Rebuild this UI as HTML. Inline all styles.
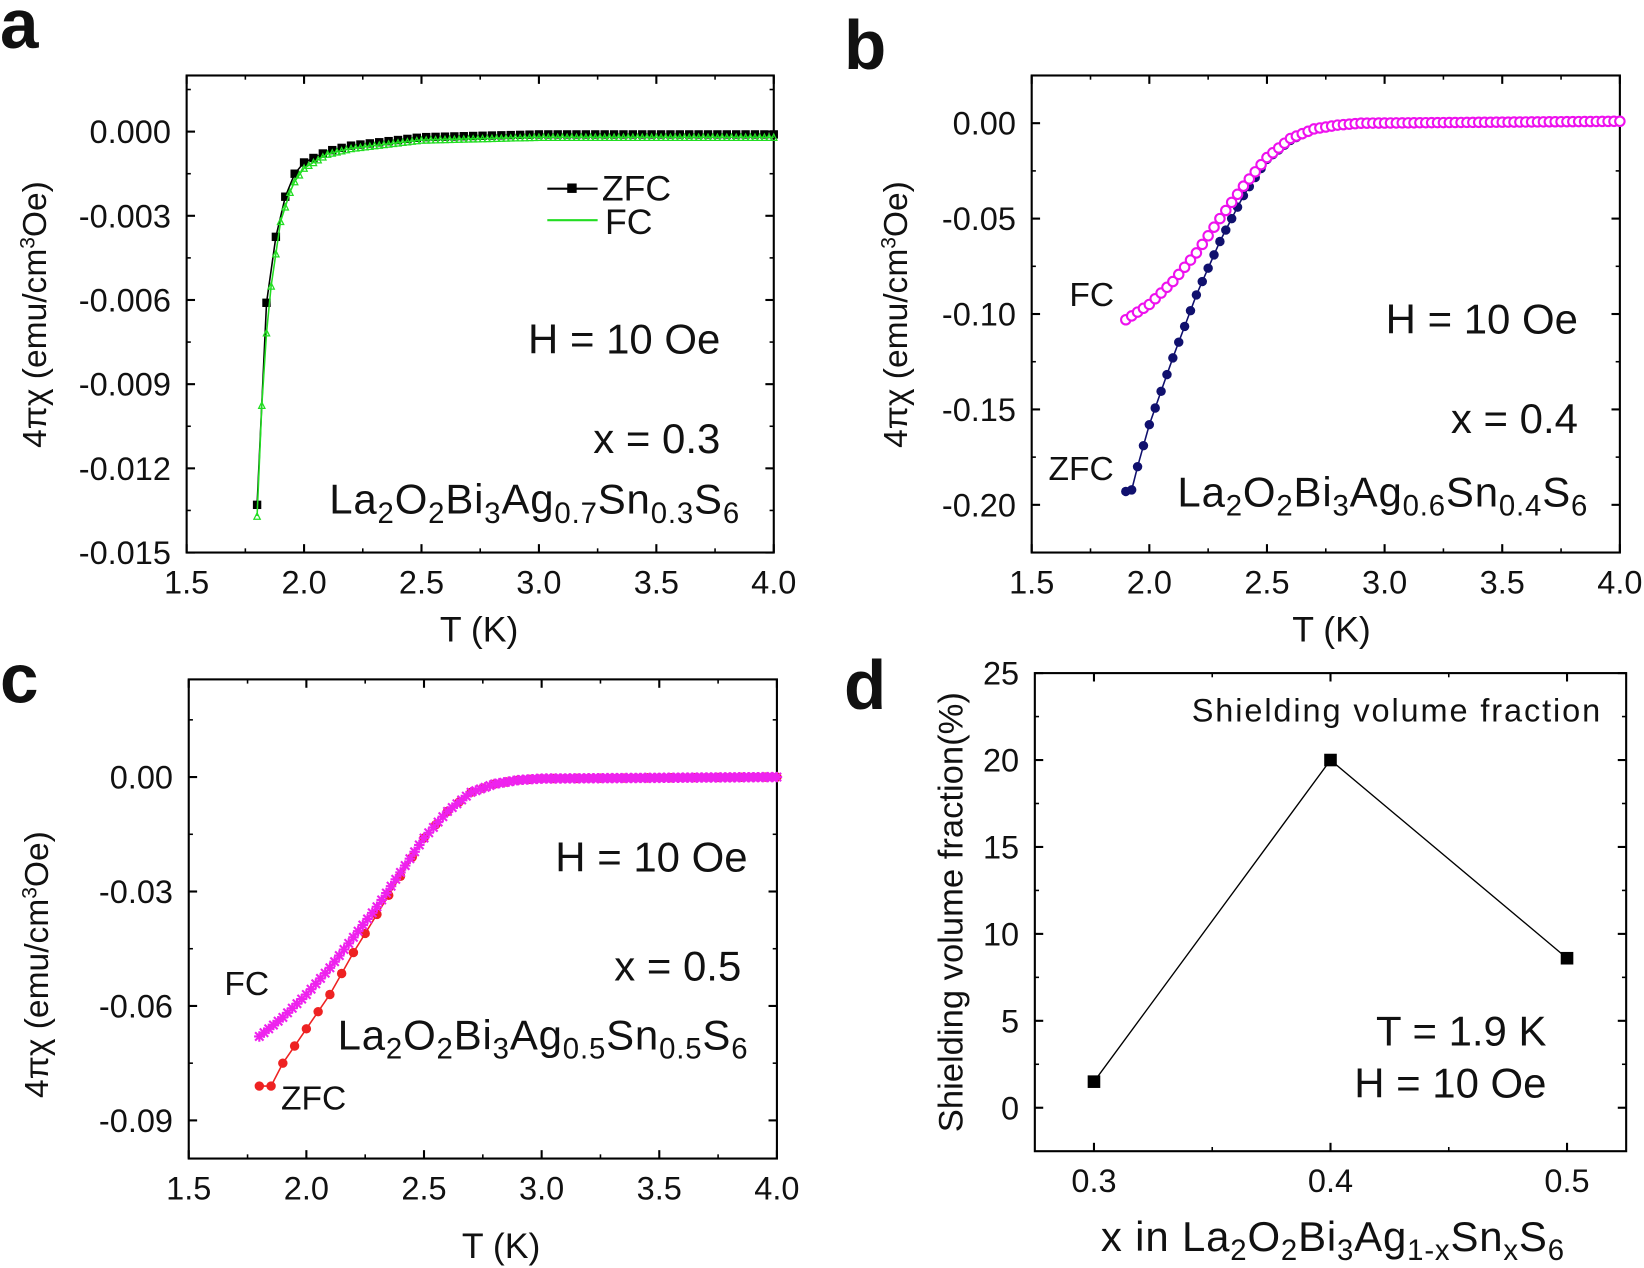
<!DOCTYPE html>
<html><head><meta charset="utf-8"><style>html,body{margin:0;padding:0;background:#fff}svg{display:block}text{font-family:"Liberation Sans",Arial,sans-serif}</style></head>
<body>
<svg id="s" width="1644" height="1268" viewBox="0 0 1568 1209.4" xmlns="http://www.w3.org/2000/svg"></svg>
<script>
const S=document.getElementById('s');let h='';
function interp(pts,t){for(let i=0;i<pts.length-1;i++){if(t<=pts[i+1][0]){const a=pts[i],b=pts[i+1];return a[1]+(b[1]-a[1])*(t-a[0])/(b[0]-a[0]);}}return pts[pts.length-1][1];}
function axes(o){
 const {x0,x1,y0,y1,xa,xb,ya,yb}=o;
 const X=v=>x0+(v-xa)/(xb-xa)*(x1-x0), Y=v=>y1-(v-ya)/(yb-ya)*(y1-y0);
 h+=`<rect x="${x0}" y="${y0}" width="${x1-x0}" height="${y1-y0}" fill="none" stroke="#000" stroke-width="2"/>`;
 o.xt.forEach(([v,l],i)=>{const x=X(v);h+=`<line x1="${x}" y1="${y1}" x2="${x}" y2="${y1-8}" stroke="#000" stroke-width="2"/><line x1="${x}" y1="${y0}" x2="${x}" y2="${y0+8}" stroke="#000" stroke-width="2"/>`;
  h+=`<text x="${x}" y="${y1+39}" font-size="31" text-anchor="middle" fill="#111">${l}</text>`;});
 (o.xm||[]).forEach(v=>{const x=X(v);h+=`<line x1="${x}" y1="${y1}" x2="${x}" y2="${y1-4}" stroke="#000" stroke-width="1.5"/><line x1="${x}" y1="${y0}" x2="${x}" y2="${y0+4}" stroke="#000" stroke-width="1.5"/>`;});
 o.yt.forEach(([v,l])=>{const y=Y(v);h+=`<line x1="${x0}" y1="${y}" x2="${x0+8}" y2="${y}" stroke="#000" stroke-width="2"/><line x1="${x1}" y1="${y}" x2="${x1-8}" y2="${y}" stroke="#000" stroke-width="2"/>`;
  h+=`<text x="${x0-15}" y="${y+11}" font-size="31" text-anchor="end" fill="#111">${l}</text>`;});
 (o.ym||[]).forEach(v=>{const y=Y(v);h+=`<line x1="${x0}" y1="${y}" x2="${x0+4}" y2="${y}" stroke="#000" stroke-width="1.5"/><line x1="${x1}" y1="${y}" x2="${x1-4}" y2="${y}" stroke="#000" stroke-width="1.5"/>`;});
 return [X,Y];
}
function series(X,Y,pts,t0,t1,dt,col,mk,lw){
 let d='',m='';
 for(let t=t0;t<=t1+1e-9;t+=dt){const x=X(t),y=Y(interp(pts,t));d+=(d?'L':'M')+x.toFixed(1)+','+y.toFixed(1);
  if(mk==='sq')m+=`<rect x="${x-4}" y="${y-4}" width="8" height="8" fill="${col}"/>`;
  else if(mk==='oc')m+=`<circle cx="${x}" cy="${y}" r="4.5" fill="#fff" stroke="${col}" stroke-width="2"/>`;
  else if(mk==='fc')m+=`<circle cx="${x}" cy="${y}" r="4.5" fill="${col}"/>`;
  else if(mk==='tri')m+=`<path d="M${x-3},${y+3}L${x},${y-3}L${x+3},${y+3}Z" fill="none" stroke="${col}" stroke-width="1.2"/>`;
  else if(mk==='st')m+=`<path d="M${x-5},${y}L${x+5},${y}M${x},${y-5}L${x},${y+5}M${x-4},${y-4}L${x+4},${y+4}M${x-4},${y+4}L${x+4},${y-4}" stroke="${col}" stroke-width="2"/>`;}
 h+=`<path d="${d}" fill="none" stroke="${col}" stroke-width="${lw||1.5}"/>`+m;
}
const xtK=[[1.5,'1.5'],[2,'2.0'],[2.5,'2.5'],[3,'3.0'],[3.5,'3.5'],[4,'4.0']],xmK=[1.75,2.25,2.75,3.25,3.75];
function lab(x,y,s,fs,anchor,w){h+=`<text x="${x}" y="${y}" font-size="${fs}" text-anchor="${anchor||'start'}" fill="#111" ${w?'font-weight="bold"':''}>${s}</text>`;}
function chem(parts,y,fs,sfs){return parts.map((p,i)=>i%2==0?`<tspan y="${y}">${p}</tspan>`:`<tspan y="${y+fs*0.22}" font-size="${sfs}">${p}</tspan>`).join('');}
function formula(x,y,a,b){h+=`<text x="${x}" y="${y}" font-size="40" letter-spacing="0.8" fill="#111">${chem(['La','2','O','2','Bi','3','Ag',a,'Sn',b,'S','6'],y,40,28)}</text>`;}
function ylabel(x,y,fs){h+=`<text transform="translate(${x},${y}) rotate(-90)" font-size="${fs}" text-anchor="middle" fill="#111">4πχ (emu/cm<tspan font-size="20" dy="-11">3</tspan><tspan dy="11">Oe)</tspan></text>`;}
// panel a
{const [X,Y]=axes({x0:178,x1:738,y0:72,y1:527,xa:1.5,xb:4,ya:-0.015,yb:0.002,xt:xtK,xm:xmK,
 yt:[[0,'0.000'],[-0.003,'-0.003'],[-0.006,'-0.006'],[-0.009,'-0.009'],[-0.012,'-0.012'],[-0.015,'-0.015']],ym:[-0.0015,-0.0045,-0.0075,-0.0105,-0.0135,0.0015]});
 const z=[[1.8,-0.0133],[1.82,-0.0085],[1.84,-0.0061],[1.86,-0.0047],[1.9,-0.0028],[1.95,-0.0016],[2.0,-0.0011],[2.1,-0.0007],[2.2,-0.0005],[2.5,-0.0002],[3,-0.0001],[4,-0.0001]];
 const f=[[1.8,-0.0137],[1.81,-0.0115],[1.83,-0.008],[1.86,-0.0055],[1.9,-0.0032],[1.95,-0.0019],[2.0,-0.0013],[2.1,-0.0008],[2.2,-0.0006],[2.5,-0.0003],[3,-0.0002],[4,-0.0002]];
 series(X,Y,z,1.8,4,0.04,'#000','sq');series(X,Y,f,1.8,4,0.02,'#22dd22','tri');
 h+=`<line x1="522" y1="180" x2="570" y2="180" stroke="#000" stroke-width="2"/><rect x="541" y="175" width="9" height="9"/><line x1="522" y1="210" x2="570" y2="210" stroke="#22dd22" stroke-width="2"/>`;
 lab(574,191,'ZFC',34);lab(577,223,'FC',34);
 lab(687,337,'H = 10 Oe',40,'end');lab(687,432,'x = 0.3',40,'end');formula(314,490,'0.7','0.3');
 lab(457,612,'T (K)',34,'middle');ylabel(44,300,32);lab(0,46,'a',66,'start',1);}
// panel b
{const [X,Y]=axes({x0:984,x1:1545,y0:72,y1:527,xa:1.5,xb:4,ya:-0.225,yb:0.025,xt:xtK,xm:xmK,
 yt:[[0,'0.00'],[-0.05,'-0.05'],[-0.1,'-0.10'],[-0.15,'-0.15'],[-0.2,'-0.20']],ym:[-0.025,-0.075,-0.125,-0.175,-0.225]});
 const f=[[1.9,-0.103],[2.0,-0.095],[2.1,-0.083],[2.2,-0.068],[2.3,-0.05],[2.4,-0.033],[2.5,-0.018],[2.6,-0.008],[2.7,-0.003],[2.8,-0.001],[2.9,0],[4,0.001]];
 const z=[[1.9,-0.193],[1.93,-0.192],[1.95,-0.18],[2.0,-0.158],[2.1,-0.123],[2.2,-0.09],[2.3,-0.062],[2.4,-0.038],[2.5,-0.019],[2.6,-0.009],[2.7,-0.003],[2.8,-0.001],[2.9,0],[4,0.001]];
 series(X,Y,z,1.9,4,0.025,'#10106e','fc');series(X,Y,f,1.9,4,0.025,'#ee11ee','oc');
 lab(1020,292,'FC',32);lab(1000,458,'ZFC',32);lab(1505,318,'H = 10 Oe',40,'end');lab(1505,413,'x = 0.4',40,'end');formula(1123,483,'0.6','0.4');
 lab(1270,612,'T (K)',34,'middle');ylabel(865,300,32);lab(805,66,'b',66,'start',1);}
// panel c
{const [X,Y]=axes({x0:180,x1:741,y0:648,y1:1105,xa:1.5,xb:4,ya:-0.1,yb:0.0256,xt:xtK,xm:xmK,
 yt:[[0,'0.00'],[-0.03,'-0.03'],[-0.06,'-0.06'],[-0.09,'-0.09']],ym:[-0.015,-0.045,-0.075,0.015]});
 const f=[[1.8,-0.068],[1.9,-0.063],[2.0,-0.057],[2.1,-0.050],[2.2,-0.042],[2.3,-0.034],[2.4,-0.025],[2.5,-0.016],[2.6,-0.009],[2.7,-0.004],[2.8,-0.0018],[2.9,-0.0008],[3.0,-0.0004],[4,0]];
 const z=[[1.8,-0.081],[1.85,-0.081],[1.9,-0.075],[2.0,-0.066],[2.1,-0.057],[2.2,-0.046],[2.3,-0.036],[2.4,-0.026],[2.5,-0.016],[2.6,-0.009],[2.7,-0.004],[2.8,-0.0018],[2.9,-0.0008],[3.0,-0.0004],[4,0]];
 series(X,Y,z,1.8,4,0.05,'#ee2222','fc');series(X,Y,f,1.8,4,0.02,'#ee22ee','st',2);
 lab(214,949,'FC',32);lab(268,1058,'ZFC',32);lab(713,831,'H = 10 Oe',40,'end');lab(707,935,'x = 0.5',40,'end');formula(322,1001,'0.5','0.5');
 lab(478,1200,'T (K)',34,'middle');ylabel(46,920,32);lab(0,670,'c',66,'start',1);}
// panel d
{const [X,Y]=axes({x0:987,x1:1551,y0:642,y1:1098,xa:0.275,xb:0.525,ya:-2.5,yb:25,xt:[[0.3,'0.3'],[0.4,'0.4'],[0.5,'0.5']],xm:[0.35,0.45],
 yt:[[0,'0'],[5,'5'],[10,'10'],[15,'15'],[20,'20'],[25,'25']],ym:[2.5,7.5,12.5,17.5,22.5]});
 const p=[[0.3,1.5],[0.4,20],[0.5,8.6]];
 h+=`<path d="${p.map((q,i)=>(i?'L':'M')+X(q[0])+','+Y(q[1])).join('')}" fill="none" stroke="#000" stroke-width="1.3"/>`;
 p.forEach(q=>h+=`<rect x="${X(q[0])-6}" y="${Y(q[1])-6}" width="12" height="12"/>`);
 h+=`<text x="1528" y="688" font-size="31" text-anchor="end" letter-spacing="1.8" fill="#111">Shielding volume fraction</text>`;
 lab(1475,997,'T = 1.9 K',40,'end');lab(1475,1047,'H = 10 Oe',40,'end');
 h+=`<text x="1050" y="1193" font-size="40" letter-spacing="0.8" fill="#111">x in ${chem(['La','2','O','2','Bi','3','Ag','1-x','Sn','x','S','6'],1193,40,28)}</text>`;
 h+=`<text transform="translate(918,870) rotate(-90)" font-size="33" text-anchor="middle" fill="#111">Shielding volume fraction(%)</text>`;
 lab(805,676,'d',66,'start',1);}
S.innerHTML=h;
</script>
</body></html>
